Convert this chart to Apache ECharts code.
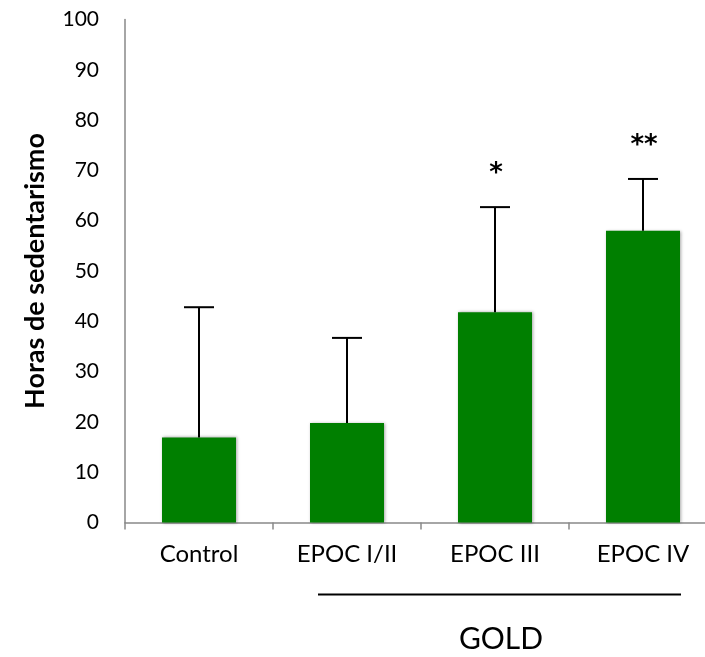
<!DOCTYPE html>
<html>
<head>
<meta charset="utf-8">
<style>html,body{margin:0;padding:0;background:#fff;}#c{width:705px;height:657px;}</style>
<script src="https://cdn.jsdelivr.net/npm/echarts@6/dist/echarts.min.js"></script>
</head>
<body>
<div id="c"></div>
<script>
const categories = ['Control', 'EPOC I/II', 'EPOC III', 'EPOC IV'];
const means = [16.9, 19.8, 41.8, 58];
const sdUpper = [25.9, 16.9, 20.9, 10.3];
const signif = ['', '', '*', '**'];
const yTicks = [0, 10, 20, 30, 40, 50, 60, 70, 80, 90, 100];
const groupLabel = 'GOLD';

const FONT = 'Lato';
const chart = echarts.init(document.getElementById('c'), null, {renderer: 'canvas'});

const errData = categories.map((c, i) => [i, means[i], means[i] + sdUpper[i], signif[i]]);

chart.setOption({
  animation: false,
  backgroundColor: '#fff',
  grid: {left: 125, top: 19.5, width: 592, height: 503, containLabel: false, outerBoundsMode: 'none'},
  xAxis: {
    type: 'category',
    data: categories,
    axisLine: {lineStyle: {color: '#898989', width: 1.5}},
    axisTick: {show: true, length: 7, lineStyle: {color: '#898989', width: 1.5}},
    axisLabel: {color: '#000', fontFamily: FONT, fontSize: 24, margin: 20},
    splitLine: {show: false}
  },
  yAxis: {
    type: 'value',
    min: yTicks[0], max: yTicks[yTicks.length - 1], interval: 10,
    axisLine: {show: true, lineStyle: {color: '#898989', width: 1.5}},
    axisTick: {show: false},
    splitLine: {show: false},
    axisLabel: {color: '#000', fontFamily: FONT, fontSize: 21, margin: 26},
    name: 'Horas de sedentarismo',
    nameLocation: 'middle',
    nameGap: 76,
    nameTextStyle: {color: '#000', fontFamily: FONT, fontSize: 27, fontWeight: 'bold'}
  },
  series: [
    {
      type: 'bar',
      data: means,
      barWidth: '50%',
      itemStyle: {color: '#007F00', shadowBlur: 3, shadowColor: 'rgba(0,0,0,0.35)', shadowOffsetX: 1, shadowOffsetY: 0}
    },
    {
      type: 'custom',
      data: errData,
      z: 5,
      renderItem: function (params, api) {
        const x = api.value(0);
        const low = api.coord([x, api.value(1)]);
        const high = api.coord([x, api.value(2)]);
        const half = 15;
        const children = [
          {type: 'line', shape: {x1: low[0], y1: low[1], x2: high[0], y2: high[1]}, style: {stroke: '#000', lineWidth: 2}},
          {type: 'line', shape: {x1: high[0] - half, y1: high[1], x2: high[0] + half, y2: high[1]}, style: {stroke: '#000', lineWidth: 2}}
        ];
        const s = errData[params.dataIndex][3];
        if (s) {
          children.push({type: 'text', style: {text: s, x: high[0] + 1, y: high[1] - 33, align: 'center', verticalAlign: 'middle', font: 'bold 26px "DejaVu Sans"', fill: '#000'}});
        }
        return {type: 'group', children: children};
      }
    }
  ],
  graphic: [
    {type: 'line', shape: {x1: 318, y1: 594.5, x2: 681, y2: 594.5}, style: {stroke: '#000', lineWidth: 2}},
    {type: 'text', style: {text: groupLabel, x: 501, y: 639, align: 'center', verticalAlign: 'middle', font: '30px ' + FONT, fill: '#000'}}
  ]
});
</script>
</body>
</html>
